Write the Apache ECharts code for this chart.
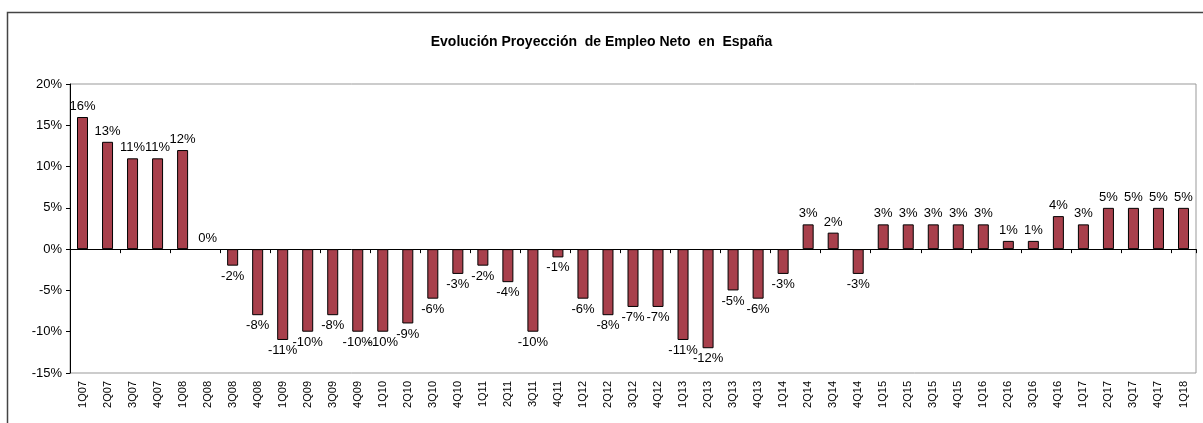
<!DOCTYPE html>
<html lang="es">
<head>
    <meta charset="UTF-8">
    <title>Evolución Proyección de Empleo Neto en España</title>
    <script src="https://cdn.jsdelivr.net/npm/echarts@6/dist/echarts.min.js"></script>
    <style>
        html, body { margin: 0; padding: 0; background: #fff; }
        #main { width: 1203px; height: 423px; }
    </style>
</head>
<body>
<div id="main"></div>
<script type="text/javascript">
    var quarters = ['1Q07', '2Q07', '3Q07', '4Q07', '1Q08', '2Q08', '3Q08', '4Q08',
        '1Q09', '2Q09', '3Q09', '4Q09', '1Q10', '2Q10', '3Q10', '4Q10',
        '1Q11', '2Q11', '3Q11', '4Q11', '1Q12', '2Q12', '3Q12', '4Q12',
        '1Q13', '2Q13', '3Q13', '4Q13', '1Q14', '2Q14', '3Q14', '4Q14',
        '1Q15', '2Q15', '3Q15', '4Q15', '1Q16', '2Q16', '3Q16', '4Q16',
        '1Q17', '2Q17', '3Q17', '4Q17', '1Q18'];
    // empleo neto, en %
    var empleoNeto = [16, 13, 11, 11, 12, 0, -2, -8,
        -11, -10, -8, -10, -10, -9, -6, -3,
        -2, -4, -10, -1, -6, -8, -7, -7,
        -11, -12, -5, -6, -3, 3, 2, -3,
        3, 3, 3, 3, 3, 1, 1, 4,
        3, 5, 5, 5, 5];
    var yTicks = [-15, -10, -5, 0, 5, 10, 15, 20];

    var fontName = 'Liberation Sans, Arial, sans-serif';
    var myChart = echarts.init(document.getElementById('main'));

    var option = {
        animation: false,
        title: {
            text: 'Evolución Proyección  de Empleo Neto  en  España',
            left: 'center',
            top: 30,
            textStyle: {
                fontFamily: fontName,
                fontSize: 14,
                fontWeight: 'bold',
                color: '#000'
            }
        },
        graphic: [{
            type: 'rect',
            shape: {x: 7.5, y: 12.5, width: 1220, height: 430},
            style: {fill: 'none', stroke: '#444', lineWidth: 1.5},
            silent: true
        }],
        grid: {
            left: 70,
            right: 7,
            top: 84,
            bottom: 50,
            show: true,
            borderColor: '#999',
            borderWidth: 1,
            containLabel: false
        },
        xAxis: [
            {
                // eje en el cero, con marcas
                type: 'category',
                data: quarters,
                axisLine: {onZero: true, lineStyle: {color: '#000', width: 1}},
                axisTick: {show: true, length: 4, lineStyle: {color: '#000'}},
                axisLabel: {show: false},
                splitLine: {show: false}
            },
            {
                // etiquetas abajo
                type: 'category',
                data: quarters,
                position: 'bottom',
                axisLine: {onZero: false, show: false},
                axisTick: {show: false},
                axisLabel: {
                    rotate: 90,
                    interval: 0,
                    margin: 8,
                    fontFamily: fontName,
                    fontSize: 11,
                    color: '#000'
                },
                splitLine: {show: false}
            }
        ],
        yAxis: {
            type: 'value',
            min: yTicks[0],
            max: yTicks[yTicks.length - 1],
            interval: 5,
            axisLine: {show: true, lineStyle: {color: '#000'}},
            axisTick: {show: true, length: 4, lineStyle: {color: '#000'}},
            axisLabel: {
                formatter: '{value}%',
                fontFamily: fontName,
                fontSize: 13,
                color: '#000',
                margin: 8
            },
            splitLine: {show: false}
        },
        series: [{
            name: 'Empleo neto',
            type: 'bar',
            xAxisIndex: 0,
            barWidth: 11,
            data: empleoNeto.map(function (v) {
                return {
                    value: v,
                    label: {position: v < 0 ? 'bottom' : 'top'},
                    itemStyle: v === 0 ? {borderWidth: 0} : {}
                };
            }),
            itemStyle: {
                color: '#A8404C',
                borderColor: '#000',
                borderWidth: 1
            },
            label: {
                show: true,
                formatter: '{c}%',
                distance: 4,
                fontFamily: fontName,
                fontSize: 13,
                color: '#000'
            }
        }]
    };
    myChart.setOption(option);
</script>
</body>
</html>
